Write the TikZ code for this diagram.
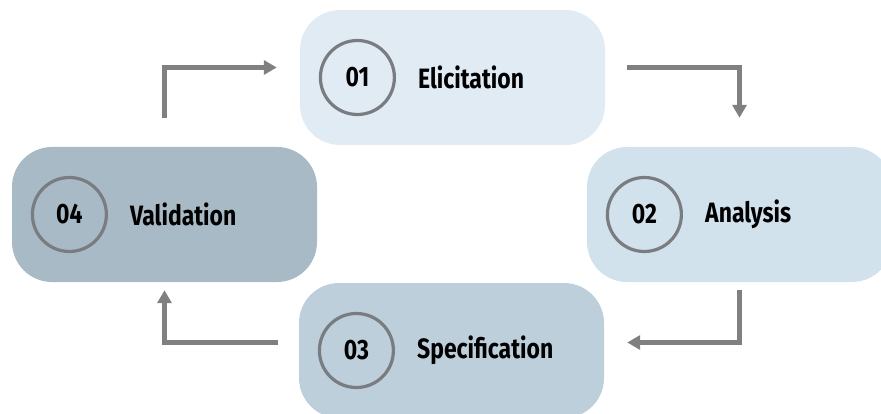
\documentclass[tikz,border=0pt]{standalone}
\usepackage{fontspec}
\newfontfamily\stagefont{Fira Sans}[FakeStretch=0.82,Numbers=Lining]
\usetikzlibrary{positioning,calc,arrows.meta}

\definecolor{stageA}{HTML}{E1EBF4}
\definecolor{stageB}{HTML}{D1E2EC}
\definecolor{stageC}{HTML}{BDCFDB}
\definecolor{stageD}{HTML}{A9BAC7}
\definecolor{ringgray}{HTML}{797C80}
\definecolor{flowgray}{HTML}{808080}

\tikzset{
  stagebox/.style={rounded corners=40pt,minimum width=305pt,minimum height=135pt,inner sep=0pt},
  numcirc/.style={circle,draw=ringgray,line width=3.2pt,minimum size=74pt,inner sep=0pt,
    font=\stagefont\bfseries\fontsize{28}{30}\selectfont},
  stagetxt/.style={inner sep=0pt,font=\stagefont\bfseries\fontsize{28}{30}\selectfont},
  flow/.style={draw=flowgray,line width=4.5pt,-{Triangle[length=13pt,width=14pt]}}
}

\begin{document}
\begin{tikzpicture}[x=1pt,y=-1pt]

      \useasboundingbox (0,0) rectangle (881,414);
      \clip (0,0) rectangle (881,414);

      % stage boxes
      \node[stagebox,fill=stageA] (elic) at (452.5,77.5) {};
      \node[stagebox,fill=stageB] (anal) at (739.5,214.5) {};
      \node[stagebox,fill=stageC] (spec) at (451.5,350.5) {};
      \node[stagebox,fill=stageD] (vali) at (164.5,214.5) {};

      % numbers and titles
      \foreach \n/\num/\txt in {elic/01/Elicitation,anal/02/Analysis,spec/03/Specification,vali/04/Validation}{
        \node[numcirc,right=19pt of \n.west] (\n-num) {\num};
        \node[stagetxt,right=22pt of \n-num.east] (\n-txt) {\txt};
      }

      % flow arrows
      \coordinate (f1a) at ($(vali.north)+(0,-29)$);
      \coordinate (f1b) at ($(elic.west)+(-23,-10)$);
      \coordinate (f2a) at ($(elic.east)+(22,-10)$);
      \coordinate (f2b) at ($(anal.north)+(0,-29)$);
      \coordinate (f3a) at ($(anal.south)+(0,8)$);
      \coordinate (f3b) at ($(spec.east)+(23,-8)$);
      \coordinate (f4a) at ($(spec.west)+(-21,-8)$);
      \coordinate (f4b) at ($(vali.south)+(0,8)$);

      \draw[flow] (f1a) |- (f1b);
      \draw[flow] (f2a) -| (f2b);
      \draw[flow] (f3a) |- (f3b);
      \draw[flow] (f4a) -| (f4b);

    \end{tikzpicture}
\end{document}
